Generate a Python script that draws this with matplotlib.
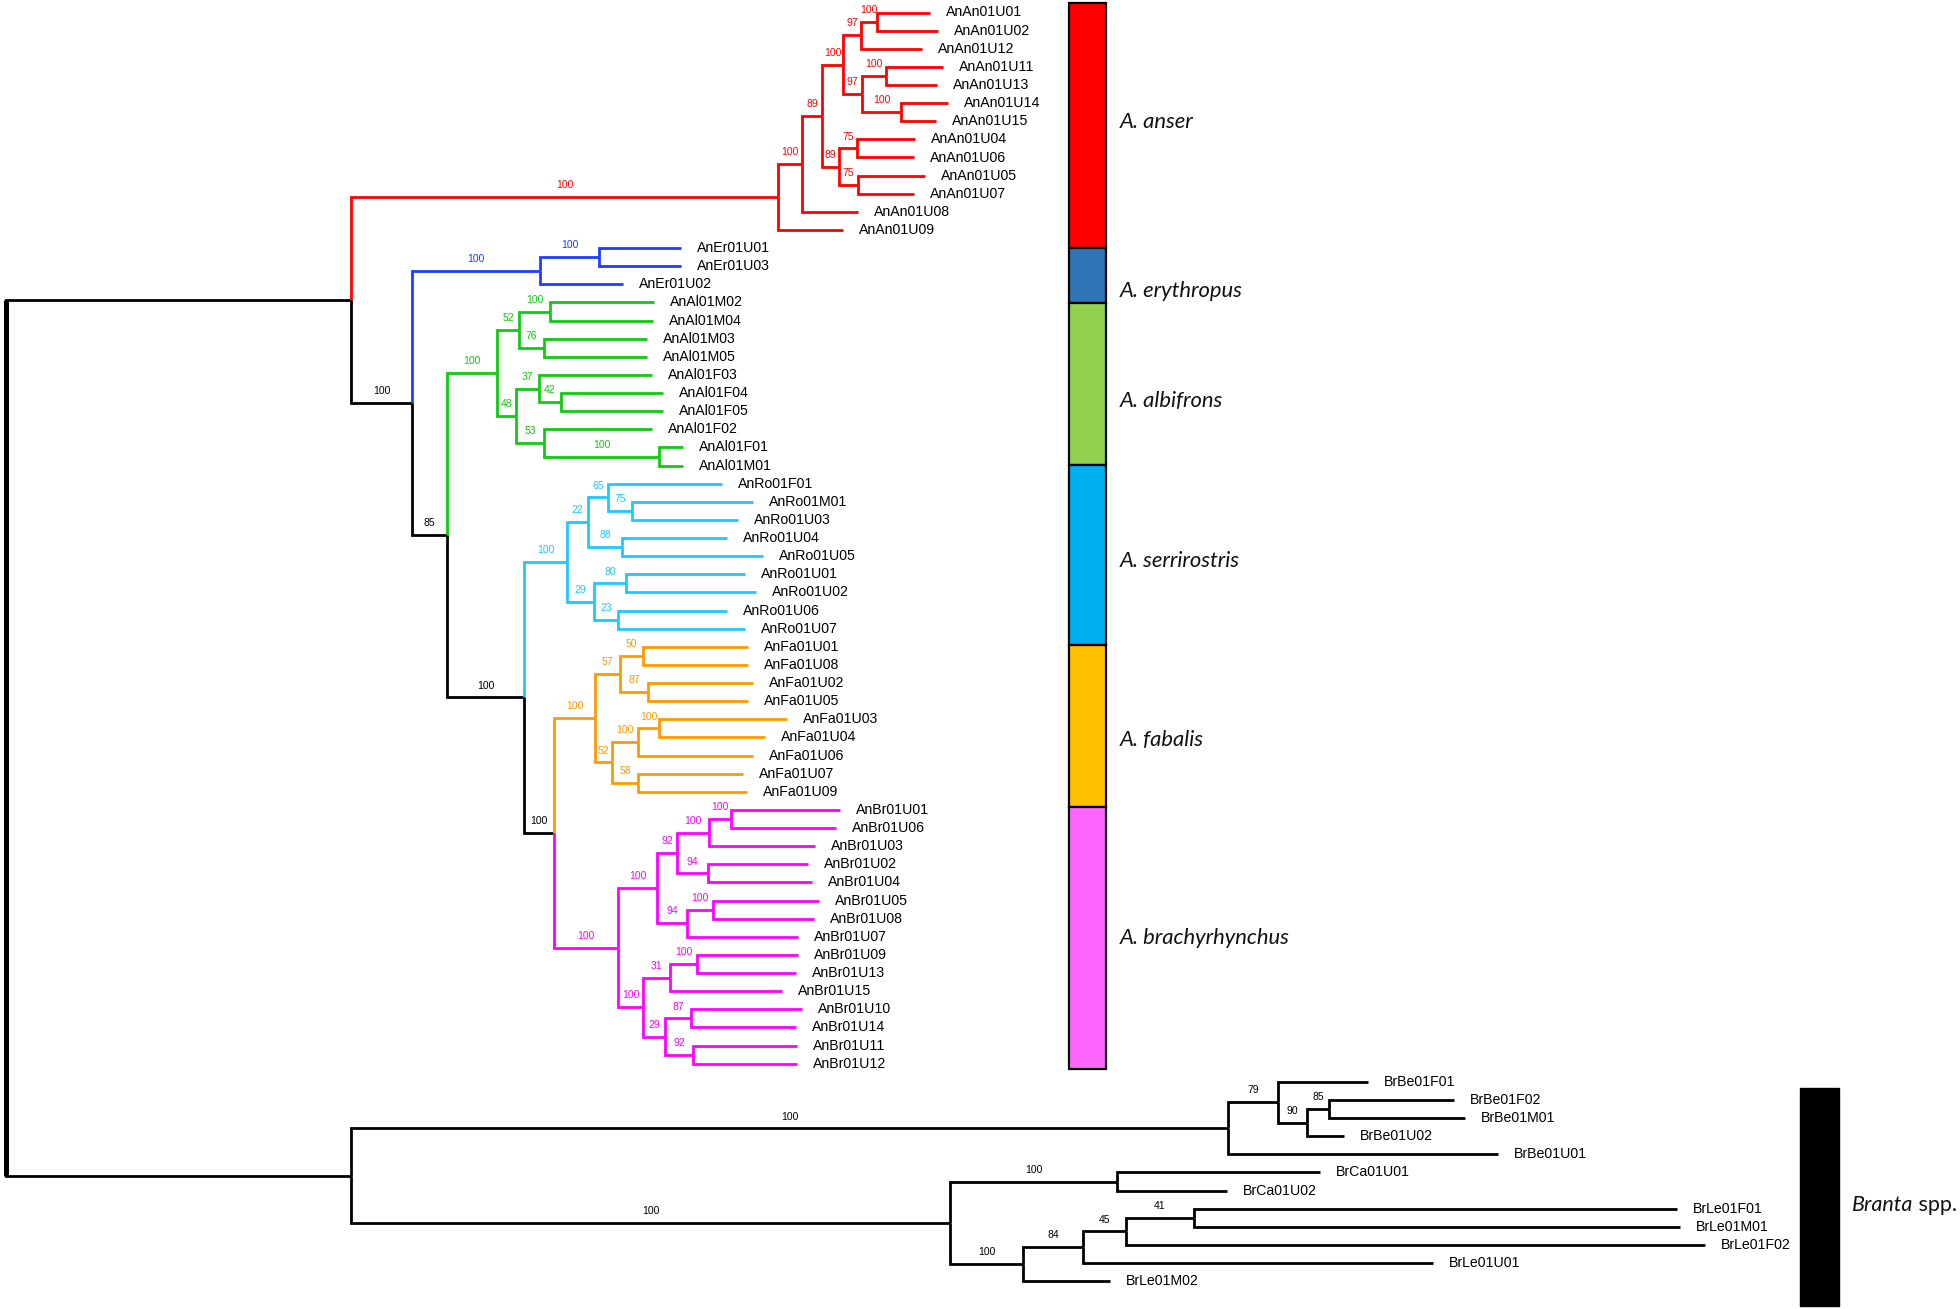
import matplotlib
matplotlib.use('Agg')
import matplotlib.pyplot as plt
from matplotlib.patches import Rectangle

# ---------------- data: clades as Newick (support:branch length) ----------------
red_clade = ("((((((AnAn01U01:53,AnAn01U02:61)100:16,AnAn01U12:61)97:18,"
             "((AnAn01U11:57,AnAn01U13:51)100:24,(AnAn01U14:47,AnAn01U15:35)100:39)97:19)100:21,"
             "((AnAn01U04:58,AnAn01U06:57)75:18,(AnAn01U05:67,AnAn01U07:56)75:19)89:17)89:20,"
             "AnAn01U08:56)100:24,AnAn01U09:65)100:427")
blue_clade = "((AnEr01U01:82,AnEr01U03:82)100:59,AnEr01U02:83)100:128"
green_clade = ("(((AnAl01M02:104,AnAl01M04:103)100:31,(AnAl01M03:103,AnAl01M05:103)76:25)52:22,"
               "((AnAl01F03:113,(AnAl01F04:102,AnAl01F05:102)42:22)37:23,"
               "(AnAl01F02:108,(AnAl01F01:24,AnAl01M01:24)100:115)53:28)48:19)100:50")
cyan_clade = ("(((AnRo01F01:114,(AnRo01M01:121,AnRo01U03:106)75:24)65:20,"
              "(AnRo01U04:105,AnRo01U05:141)88:34)22:21,"
              "((AnRo01U01:119,AnRo01U02:130)80:32,(AnRo01U06:109,AnRo01U07:127)23:24)29:27)100:43")
orange_clade = ("(((AnFa01U01:105,AnFa01U08:105)50:23,(AnFa01U02:105,AnFa01U05:100)87:28)57:25,"
                "(((AnFa01U03:128,AnFa01U04:106)100:21,AnFa01U06:115)100:26,"
                "(AnFa01U07:105,AnFa01U09:109)58:26)52:17)100:41")
magenta_clade = ("(((((AnBr01U01:109,AnBr01U06:105)100:22,AnBr01U03:106)100:32,"
                 "(AnBr01U02:100,AnBr01U04:104)94:31)92:20,"
                 "((AnBr01U05:106,AnBr01U08:101)100:26,AnBr01U07:111)94:30)100:39,"
                 "(((AnBr01U09:101,AnBr01U13:99)100:27,AnBr01U15:112)31:27,"
                 "((AnBr01U10:111,AnBr01U14:105)87:26,(AnBr01U11:104,AnBr01U12:104)92:28)29:22)100:25)100:64")
bernicla_clade = ("((BrBe01F01:90,((BrBe01F02:125,BrBe01M01:136)85:22,BrBe01U02:37)90:29)79:50,"
                  "BrBe01U01:270)100:877")
other_branta_clade = ("((BrCa01U01:203,BrCa01U02:110)100:167,"
                      "((((BrLe01F01:483,BrLe01M01:486)41:68,BrLe01F02:579)45:43,BrLe01U01:350)84:60,"
                      "BrLe01M02:87)100:73)100:599")

tree_newick = (f"(({red_clade},({blue_clade},({green_clade},({cyan_clade},"
               f"({orange_clade},{magenta_clade})100:30)100:77)85:35)100:61):345,"
               f"({bernicla_clade},{other_branta_clade}):345);")

clade_prefixes = ["AnAn", "AnEr", "AnAl", "AnRo", "AnFa", "AnBr"]
branch_colors = ["#FF0000", "#1E3CFF", "#0FCB0F", "#1EC8FF", "#FF9900", "#FF00FF"]

species_names = ["A. anser", "A. erythropus", "A. albifrons", "A. serrirostris", "A. fabalis", "A. brachyrhynchus"]
bar_colors = ["#FF0000", "#2E75B6", "#92D050", "#00B0F0", "#FFC000", "#FF66FF"]
bar_edges = [-0.54, 12.98, 16.04, 24.97, 34.9, 43.83, 58.29]      # in leaf rows
species_label_rows = [6.37, 15.70, 21.77, 30.59, 40.47, 51.39]     # baseline rows
branta_bar_edges = [59.34, 71.36]
branta_label_row = 66.13


# ---------------- Newick parser ----------------
class Node:
    def __init__(self):
        self.children = []
        self.name = ''
        self.support = ''
        self.length = 0.0
        self.parent = None


def parse_newick(s):
    s = s.strip().rstrip(';')
    pos = 0

    def read():
        nonlocal pos
        node = Node()
        if s[pos] == '(':
            pos += 1
            while True:
                ch = read()
                ch.parent = node
                node.children.append(ch)
                if s[pos] == ',':
                    pos += 1
                    continue
                if s[pos] == ')':
                    pos += 1
                    break
        start = pos
        while pos < len(s) and s[pos] not in ':,)':
            pos += 1
        label = s[start:pos]
        if node.children:
            node.support = label
        else:
            node.name = label
        if pos < len(s) and s[pos] == ':':
            pos += 1
            start = pos
            while pos < len(s) and s[pos] not in ',)':
                pos += 1
            node.length = float(s[start:pos])
        return node

    return read()


root = parse_newick(tree_newick)

# layout
leaf_counter = [0]


def layout(node, x0):
    node.x = x0 + node.length
    if not node.children:
        node.y = leaf_counter[0]
        leaf_counter[0] += 1
        node.leaves = [node.name]
    else:
        node.leaves = []
        for c in node.children:
            layout(c, node.x)
            node.leaves += c.leaves
        node.y = (node.children[0].y + node.children[-1].y) / 2.0
    prefs = set(l[:4] for l in node.leaves)
    node.color = 'black'
    if len(prefs) == 1:
        p = prefs.pop()
        if p in clade_prefixes:
            node.color = branch_colors[clade_prefixes.index(p)]


layout(root, 0.0)

all_nodes = []


def collect(n):
    all_nodes.append(n)
    for c in n.children:
        collect(c)


collect(root)

# ---------------- figure ----------------
W, H = 1960, 1309
fig = plt.figure(figsize=(W / 100, H / 100), dpi=100)
ax = fig.add_axes([0, 0, 1, 1])
ax.set_xlim(-6, W - 6)
ax.set_ylim((H - 12.5) / 18.125, -12.5 / 18.125)
ax.axis('off')

LW = 2.0
leaf_font = 'Liberation Sans'

for n in all_nodes:
    if n.parent is None:
        continue
    p = n.parent
    ax.plot([p.x, p.x, n.x], [p.y, n.y, n.y], color=n.color, lw=LW,
            solid_joinstyle='miter', solid_capstyle='butt', zorder=2)
    if n.children and n.support:
        ax.annotate(n.support, ((p.x + n.x) / 2, n.y), xytext=(0, 8.5),
                    textcoords='offset points', ha='center', va='center',
                    fontsize=7.5, color=n.color, family=leaf_font, zorder=3)
    if not n.children:
        ax.annotate(n.name, (n.x, n.y), xytext=(11.5, 0), textcoords='offset points',
                    ha='left', va='center', fontsize=10.2, color='black', family=leaf_font)

# thicker root line
ax.plot([root.x, root.x], [root.children[0].y, root.children[-1].y], color='black',
        lw=3.6, solid_capstyle='butt', zorder=3)

# species colour bar
bar_x0, bar_w = 1069 - 6, 37
for i, (nm, col) in enumerate(zip(species_names, bar_colors)):
    y0, y1 = bar_edges[i], bar_edges[i + 1]
    ax.add_patch(Rectangle((bar_x0, y0), bar_w, y1 - y0, facecolor=col,
                           edgecolor='black', lw=1.6, zorder=4))
    ax.text(1120 - 6, species_label_rows[i], nm, ha='left', va='baseline',
            fontsize=15.8, style='italic', family='Lato', color='#111111')

# Branta bar
ax.add_patch(Rectangle((1800 - 6, branta_bar_edges[0]), 39,
                       branta_bar_edges[1] - branta_bar_edges[0],
                       facecolor='black', edgecolor='black', lw=1.0, zorder=4))
t = ax.text(1852 - 6, branta_label_row, "Branta", ha='left', va='baseline',
            fontsize=15.5, style='italic', family='Lato', color='#111111')
ax.annotate(" spp.", xy=(1, 0), xycoords=t, ha='left', va='bottom',
            fontsize=15.5, family='Lato', color='#111111')

fig.savefig('out.png', dpi=100, facecolor='white')
